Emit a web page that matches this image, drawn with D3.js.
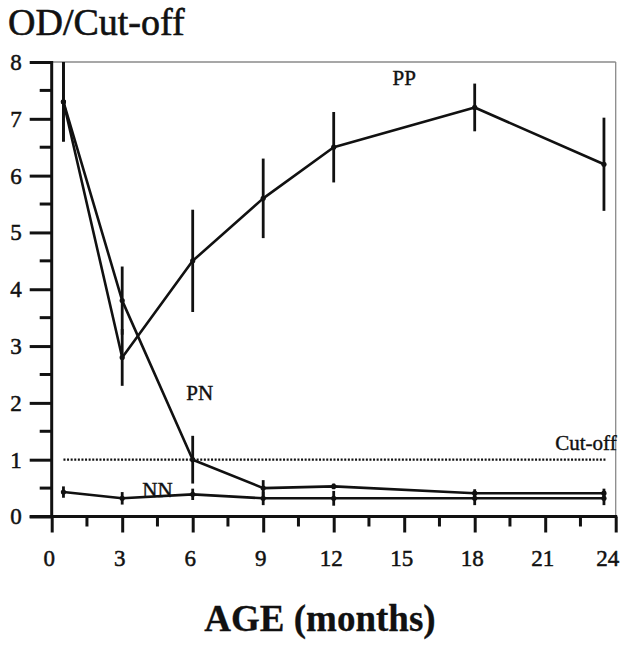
<!DOCTYPE html>
<html>
<head>
<meta charset="utf-8">
<script src="https://cdn.jsdelivr.net/npm/d3@7"></script>
<style>
  html, body { margin: 0; padding: 0; background: #fff; }
  svg text { font-family: "Liberation Serif", "Times New Roman", "DejaVu Serif", serif; }
</style>
</head>
<body>
<svg id="chart" width="621" height="645"></svg>
<script>
// age points (months) shared by all three groups
const months = [0.5, 3, 6, 9, 12, 18, 23.5];

const ppMean = [7.3, 2.8, 4.5, 5.6, 6.5, 7.2, 6.2];
const ppErr  = [0.7, 0.5, 0.9, 0.7, 0.62, 0.42, 0.82];

const pnMean = [7.3, 3.8, 1.0, 0.5, 0.53, 0.41, 0.41];
const pnErr  = [0.7, 0.6, 0.42, 0.14, 0.05, 0.07, 0.08];

const nnMean = [0.43, 0.32, 0.39, 0.32, 0.32, 0.32, 0.32];
const nnErr  = [0.1, 0.11, 0.1, 0.12, 0.13, 0.12, 0.12];

const cutoff = 1;
const xTicks = [0, 3, 6, 9, 12, 15, 18, 21, 24];
const yTicks = [0, 1, 2, 3, 4, 5, 6, 7, 8];

const series = [
    { name: "PP", mean: ppMean, err: ppErr, label: [15, 7.6] },
    { name: "PN", mean: pnMean, err: pnErr, label: [6.3, 2.05] },
    { name: "NN", mean: nnMean, err: nnErr, label: [4.5, 0.34] }
];

const INK = "#111";
const svg = d3.select("#chart");
const x = d3.scaleLinear().domain([0, 24]).range([51.7, 615.7]);
const y = d3.scaleLinear().domain([0, 8]).range([516.5, 62]);

// scanned print looks heavier than plain Times, so give text a hairline stroke
function ink(sel, w) {
    return sel.attr("fill", INK).attr("stroke", INK).attr("stroke-width", w);
}

// thin frame on top and right
svg.append("line")
    .attr("x1", x(0)).attr("x2", x(24)).attr("y1", y(8)).attr("y2", y(8))
    .attr("stroke", "#8a8a8a").attr("stroke-width", 1.3);
svg.append("line")
    .attr("x1", x(24)).attr("x2", x(24)).attr("y1", y(8)).attr("y2", y(0))
    .attr("stroke", "#8a8a8a").attr("stroke-width", 1.3);

// y axis, major ticks + half-unit minor ticks
const yAxis = svg.append("g").attr("transform", `translate(${x(0)},0)`)
    .call(d3.axisLeft(y).tickValues(yTicks).tickSize(22).tickPadding(8).tickFormat(d3.format("d")));
yAxis.append("g").selectAll("line")
    .data(d3.range(0.5, 8, 1)).enter().append("line")
    .attr("x1", -12).attr("x2", 0)
    .attr("y1", d => y(d)).attr("y2", d => y(d));

// x axis
const xAxis = svg.append("g").attr("transform", `translate(0,${y(0)})`)
    .call(d3.axisBottom(x).tickValues(xTicks).tickSize(16).tickPadding(17).tickFormat(d3.format("d")));
xAxis.append("g").selectAll("line")
    .data(d3.range(1.5, 24, 3)).enter().append("line")
    .attr("x1", d => x(d)).attr("x2", d => x(d))
    .attr("y1", 0).attr("y2", 10);
xAxis.selectAll(".tick text").attr("dx", -3);
xAxis.selectAll(".tick text").filter(d => d === 24)
    .attr("text-anchor", "end").attr("dx", 3);

[yAxis, xAxis].forEach(ax => {
    ax.select(".domain").remove();
    ax.selectAll("line").attr("stroke", INK).attr("stroke-width", 3);
    ink(ax.selectAll("text"), 0.5).attr("font-size", 23);
});
svg.append("line")
    .attr("x1", x(0)).attr("x2", x(0)).attr("y1", y(8) - 1).attr("y2", y(0) + 1.5)
    .attr("stroke", INK).attr("stroke-width", 3);
svg.append("line")
    .attr("x1", x(0) - 22).attr("x2", x(24) + 1.5).attr("y1", y(0)).attr("y2", y(0))
    .attr("stroke", INK).attr("stroke-width", 3);

// cut-off line
svg.append("line")
    .attr("x1", x(months[0])).attr("x2", x(23.6))
    .attr("y1", y(cutoff)).attr("y2", y(cutoff))
    .attr("stroke", INK).attr("stroke-width", 2.2).attr("stroke-dasharray", "2,1.6");
ink(svg.append("text"), 0.4)
    .attr("x", x(24) + 1).attr("y", y(1.17))
    .attr("text-anchor", "end").attr("font-size", 21)
    .text("Cut-off");

const line = d3.line().x(d => x(d[0])).y(d => y(d[1]));

series.forEach(s => {
    const pts = months.map((m, i) => [m, s.mean[i], s.err[i]]);
    const g = svg.append("g");
    g.append("path")
        .attr("d", line(pts))
        .attr("fill", "none").attr("stroke", INK).attr("stroke-width", 2.6)
        .attr("stroke-linejoin", "round");
    g.selectAll("line.err").data(pts).enter().append("line").attr("class", "err")
        .attr("x1", d => x(d[0])).attr("x2", d => x(d[0]))
        .attr("y1", d => y(Math.min(8, d[1] + d[2]))).attr("y2", d => y(d[1] - d[2]))
        .attr("stroke", INK).attr("stroke-width", 2.8);
    g.selectAll("circle").data(pts).enter().append("circle")
        .attr("cx", d => x(d[0])).attr("cy", d => y(d[1])).attr("r", 2.6)
        .attr("fill", INK);
    ink(svg.append("text"), 0.4)
        .attr("x", x(s.label[0])).attr("y", y(s.label[1]))
        .attr("text-anchor", "middle").attr("font-size", 21)
        .text(s.name);
});

// titles
ink(svg.append("text"), 0.6).attr("x", 8).attr("y", 35)
    .attr("font-size", 38).text("OD/Cut-off");
ink(svg.append("text"), 0.3).attr("x", 320).attr("y", 631)
    .attr("text-anchor", "middle").attr("font-size", 37).attr("font-weight", "bold")
    .text("AGE (months)");
</script>
</body>
</html>
